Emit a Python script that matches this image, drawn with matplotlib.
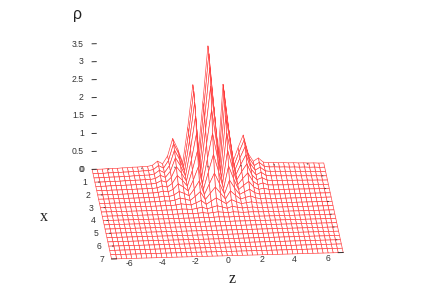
import numpy as np
import matplotlib
matplotlib.use("Agg")
import matplotlib.pyplot as plt
from mpl_toolkits.mplot3d import proj3d

# grid
z_values = np.arange(-23, 24) * (14 / 46)
x_values = np.arange(0, 22) / 3

# density read along the back row (x = 0), one value per z grid line
rho_back = [0.00, 0.00, 0.00, 0.01, 0.01, 0.01, 0.02, 0.02, 0.03, 0.03, 0.04, 0.04,
            0.07, 0.18, 0.10, 0.32, 0.80, 0.50, 0.12, 1.10, 2.28, 0.22, 1.80,
            3.35,
            1.80, 0.22, 2.27, 1.10, 0.12, 0.50, 0.84, 0.32, 0.10, 0.19, 0.07, 0.05,
            0.05, 0.04, 0.04, 0.03, 0.03, 0.02, 0.02, 0.01, 0.01, 0.00, 0.00]
# relative height of the ridges going forward, one value per x grid line
x_falloff = [1.00, 0.97, 0.89, 0.77, 0.61, 0.45, 0.31, 0.19, 0.11, 0.055, 0.025,
             0.01, 0.004, 0.001, 0.0, 0.0, 0.0, 0.0, 0.0, 0.0, 0.0, 0.0]

rho_ticks = [0, 0.5, 1, 1.5, 2, 2.5, 3, 3.5]
rho_labels = ["0", "0.5", "1", "1.5", "2", "2.5", "3", "3.5"]
z_ticks = [-6, -4, -2, 0, 2, 4, 6]
x_ticks = [0, 1, 2, 3, 4, 5, 6, 7]

W, H = 436, 305
fig = plt.figure(figsize=(W / 100, H / 100), dpi=100, facecolor="white")
S = 640
cx, cy = 209, 155
ax = fig.add_axes([(cx - S / 2) / W, (H - cy - S / 2) / H, S / W, S / H],
                  projection="3d", proj_type="ortho")
ax.computed_zorder = False
ax.set_axis_off()
ax.patch.set_alpha(0)
ax.set_xlim(-7, 7)
ax.set_ylim(7, 0)
ax.set_zlim(0, 3.6)
ax.set_box_aspect((232, 250.3, 138.2), zoom=0.5593)
ax.view_init(elev=21, azim=-94.45)

Z, X = np.meshgrid(z_values, x_values)
R = np.outer(x_falloff, rho_back)
ax.plot_surface(Z, X, R, rstride=1, cstride=1, color="white", edgecolor="#ff3a3a",
                linewidth=0.45, shade=False, antialiased=True, zorder=1)

font = dict(family="Liberation Sans", fontsize=6.2, color="#333333", zorder=3, clip_on=False)
M = ax.get_proj()


def label(a, b, c, s, ha):
    px, py, _ = proj3d.proj_transform(a, b, c, M)
    ax.text2D(px, py, s, ha=ha, va="center", **font)


tick = dict(color="#333333", lw=0.7, zorder=2)
for v, s in zip(rho_ticks, rho_labels):
    ax.plot([-7, -6.75], [0, 0], [v, v], **tick)
    label(-7.5, 0, v, s, "right")
for v in z_ticks:
    label(v, 7.4, 0, str(v), "center")
    ax.plot([v, v], [0, 0.06], [0, 0], color="#333333", lw=0.6, zorder=2)
for v in x_ticks:
    label(-7.6, v, 0, str(v), "center")
    if 0 < v < 7:
        ax.plot([-6.78, -6.72], [v, v], [0, 0], color="#333333", lw=0.6, zorder=2)
        ax.plot([6.72, 6.78], [v, v], [0, 0], color="#333333", lw=0.6, zorder=2)
ax.plot([-7, -6.7], [7, 7], [0, 0], **tick)
ax.plot([6.7, 7], [7, 7], [0, 0], **tick)

fig.text(77 / W, 1 - 14 / H, "ρ", family="Liberation Sans", fontsize=11.5, ha="center", va="center", color="#222222")
fig.text(44 / W, 1 - 217 / H, "x", family="Liberation Serif", fontsize=11.5, ha="center", va="center", color="#222222")
fig.text(232 / W, 1 - 279 / H, "z", family="Liberation Serif", fontsize=11.5, ha="center", va="center", color="#222222")

fig.savefig("out.png", dpi=100)
